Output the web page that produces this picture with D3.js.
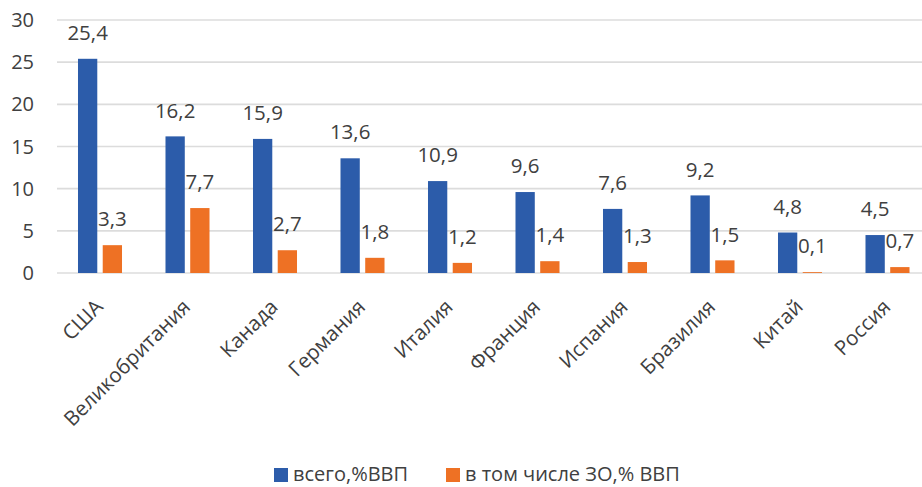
<!DOCTYPE html>
<html>
<head>
<meta charset="utf-8">
<script src="https://cdn.jsdelivr.net/npm/d3@7"></script>
<style>
  body { margin: 0; background: #fff; }
  svg { display: block; font-family: "Open Sans", sans-serif; }
</style>
</head>
<body>
<svg id="chart" width="922" height="487"></svg>
<script>
// Data
const countries = ['США', 'Великобритания', 'Канада', 'Германия', 'Италия',
  'Франция', 'Испания', 'Бразилия', 'Китай', 'Россия'];
const totalGdp = [25.4, 16.2, 15.9, 13.6, 10.9, 9.6, 7.6, 9.2, 4.8, 4.5];
const healthGdp = [3.3, 7.7, 2.7, 1.8, 1.2, 1.4, 1.3, 1.5, 0.1, 0.7];
const seriesNames = ['всего,%ВВП', 'в том числе ЗО,% ВВП'];
const yTicks = [0, 5, 10, 15, 20, 25, 30];

const colors = ['#2c5caa', '#ee7124'];
const textColor = '#404040';

const svg = d3.select('#chart');

// Scales
const x = d3.scaleBand()
  .domain(countries)
  .range([56.25, 931.25])
  .paddingInner(0.497)
  .paddingOuter(0.2485);

const xInner = d3.scaleBand()
  .domain([0, 1])
  .range([0, x.bandwidth()])
  .paddingInner(0.22);

const y = d3.scaleLinear()
  .domain([0, 30])
  .range([273, 20]);

// Grid lines
svg.append('g')
  .selectAll('line')
  .data(yTicks)
  .join('line')
  .attr('x1', 57)
  .attr('x2', 922)
  .attr('y1', d => y(d))
  .attr('y2', d => y(d))
  .attr('stroke', '#dcdcdc')
  .attr('stroke-width', 1.6);

// Y axis labels
svg.append('g')
  .selectAll('text')
  .data(yTicks)
  .join('text')
  .attr('x', 34)
  .attr('y', d => y(d))
  .attr('dy', '0.35em')
  .attr('text-anchor', 'end')
  .attr('font-size', 20)
  .attr('fill', textColor)
  .text(d => d);

// Bars grouped by country
const rows = countries.map((c, i) => ({ country: c, values: [totalGdp[i], healthGdp[i]] }));
const fmt = v => d3.format('.1f')(v).replace('.', ',');

const groups = svg.append('g')
  .selectAll('g')
  .data(rows)
  .join('g')
  .attr('transform', d => `translate(${x(d.country)},0)`);

groups.selectAll('rect')
  .data(d => d.values.map((v, k) => ({ v, k })))
  .join('rect')
  .attr('x', d => xInner(d.k))
  .attr('width', xInner.bandwidth())
  .attr('y', d => y(d.v))
  .attr('height', d => y(0) - y(d.v))
  .attr('fill', d => colors[d.k]);

groups.selectAll('text')
  .data(d => d.values.map((v, k) => ({ v, k })))
  .join('text')
  .attr('x', d => xInner(d.k) + xInner.bandwidth() / 2)
  .attr('y', d => y(d.v) - 26)
  .attr('dy', '0.35em')
  .attr('text-anchor', 'middle')
  .attr('font-size', 20.5)
  .attr('fill', textColor)
  .text(d => fmt(d.v));

// Rotated category labels
svg.append('g')
  .selectAll('text')
  .data(countries)
  .join('text')
  .attr('transform', d => `translate(${x(d) + x.bandwidth() / 2 - 6},298) rotate(-45)`)
  .attr('text-anchor', 'end')
  .attr('dy', '0.7em')
  .attr('font-size', 20.5)
  .attr('fill', textColor)
  .text(d => d);

// Legend
const legendX = [274, 446];
const legend = svg.append('g')
  .selectAll('g')
  .data(seriesNames)
  .join('g')
  .attr('transform', (d, i) => `translate(${legendX[i]},468)`);

legend.append('rect')
  .attr('width', 14)
  .attr('height', 14)
  .attr('fill', (d, i) => colors[i]);

legend.append('text')
  .attr('x', 19)
  .attr('y', 13)
  .attr('font-size', 20)
  .attr('fill', textColor)
  .text(d => d);
</script>
</body>
</html>
